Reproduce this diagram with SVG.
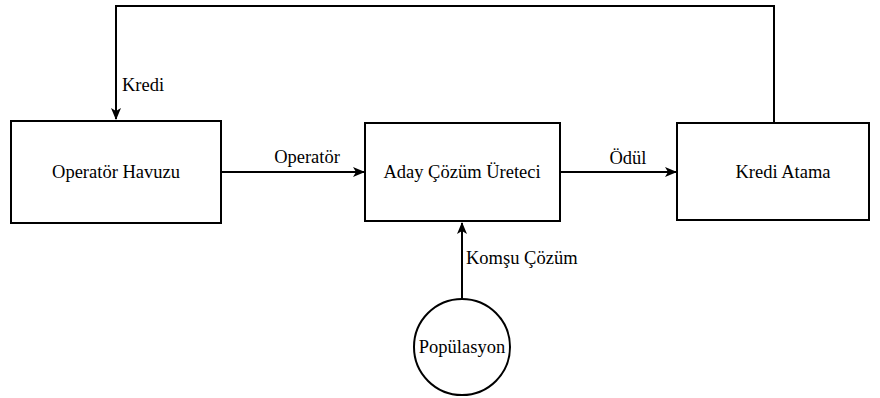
<svg xmlns="http://www.w3.org/2000/svg" width="880" height="398" viewBox="0 0 880 398">
<style>
.box{fill:#fff;stroke:#000;stroke-width:2}
.edge{fill:none;stroke:#000;stroke-width:2}
.c{text-anchor:middle}
</style>
<defs>
<marker id="arr" viewBox="0 0 12 12" refX="11" refY="6" markerWidth="12" markerHeight="12" markerUnits="userSpaceOnUse" orient="auto">
<path d="M0,1 L12,6 L0,11 L3,6 Z" fill="#000"/>
</marker>
</defs>
<rect width="880" height="398" fill="#fff"/>
<g font-family="Liberation Serif, Times New Roman, serif" font-size="18.5" fill="#000">
<g id="connectors">
<path class="edge" d="M774,122 V6 H116 V119" marker-end="url(#arr)"/>
<path class="edge" d="M221,172 H364" marker-end="url(#arr)"/>
<path class="edge" d="M560,172 H676" marker-end="url(#arr)"/>
<path class="edge" d="M462,298 V223" marker-end="url(#arr)"/>
<text x="122" y="91">Kredi</text>
<text class="c" x="307" y="163">Operatör</text>
<text class="c" x="628" y="164">Ödül</text>
<text x="466" y="264">Komşu Çözüm</text>
</g>
<g id="operator-havuzu">
<rect class="box" x="11" y="121" width="210" height="102"/>
<text class="c" x="116" y="178">Operatör Havuzu</text>
</g>
<g id="aday-cozum-ureteci">
<rect class="box" x="365" y="123" width="195" height="98"/>
<text class="c" x="462" y="178">Aday Çözüm Üreteci</text>
</g>
<g id="kredi-atama">
<rect class="box" x="677" y="123" width="192" height="97"/>
<text class="c" x="783" y="178">Kredi Atama</text>
</g>
<g id="populasyon">
<circle class="box" cx="462" cy="347" r="48"/>
<text class="c" x="462" y="353">Popülasyon</text>
</g>
</g>
</svg>
